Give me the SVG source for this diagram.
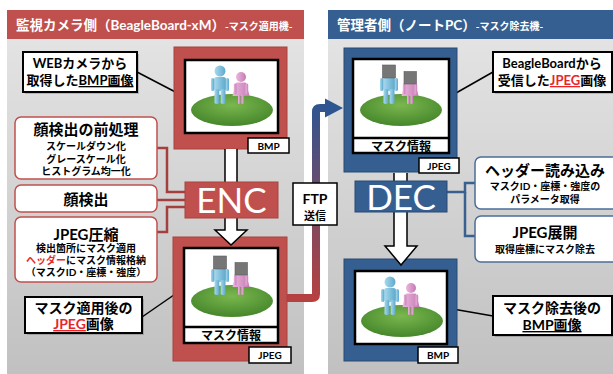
<svg xmlns="http://www.w3.org/2000/svg" width="613" height="374" viewBox="0 0 613 374">
  <style>
    .t { font-family: Lato, "Noto Sans CJK JP", sans-serif; font-weight: bold; fill: #000; }
    .w { fill: #fff; }
    .red { fill: #e8262a; }
    .call { fill: #fff; stroke: #000; stroke-width: 2; }
    .shadow { fill: #000; opacity: 0.18; }
    .lbl { fill: #fff; stroke: #000; stroke-width: 1.5; }
    .redbox { fill: #fff; stroke: #c0504d; stroke-width: 1.5; }
    .bluebox { fill: #fff; stroke: #4a6d99; stroke-width: 1.5; }
    .lead { stroke: #000; stroke-width: 1.5; fill: none; }
    .redlink { stroke: #a33f3c; stroke-width: 2.5; fill: none; }
    .bluelink { stroke: #3a6090; stroke-width: 2.5; fill: none; }
    .flow { fill: #fff; stroke: #000; stroke-width: 1.5; stroke-linejoin: miter; }
    .redframe { fill: #c0504d; stroke: #a8423f; stroke-width: 1; }
    .blueframe { fill: #365f91; stroke: #2a4a73; stroke-width: 1; }
    .pic { fill: #fff; stroke: #000; stroke-width: 2.5; }
    .mask { fill: #767676; stroke: #5e5e5e; stroke-width: 0.6; }
  </style>
  <defs>
    <linearGradient id="panelBg" x1="0" y1="0" x2="0" y2="1">
      <stop offset="0" stop-color="#e6e6e6"/>
      <stop offset="1" stop-color="#c0c0c0"/>
    </linearGradient>
    <linearGradient id="ftpGrad" gradientUnits="userSpaceOnUse" x1="0" y1="302" x2="0" y2="100">
      <stop offset="0" stop-color="#b8403f"/>
      <stop offset="1" stop-color="#2c5592"/>
    </linearGradient>
    <radialGradient id="grass" cx="0.5" cy="0.35" r="0.6">
      <stop offset="0" stop-color="#7ab74e"/>
      <stop offset="1" stop-color="#4a8a2e"/>
    </radialGradient>
    <linearGradient id="blueBody" x1="0" y1="0" x2="1" y2="0">
      <stop offset="0" stop-color="#a8daee"/>
      <stop offset="1" stop-color="#5ea8cb"/>
    </linearGradient>
    <linearGradient id="pinkBody" x1="0" y1="0" x2="1" y2="0">
      <stop offset="0" stop-color="#ebb8de"/>
      <stop offset="1" stop-color="#c57ab4"/>
    </linearGradient>
    <!-- man standing with feet at origin -->
    <g id="man" fill="url(#blueBody)">
      <circle cx="0" cy="-33" r="5.5"/>
      <rect x="-6" y="-27" width="12" height="14" rx="2.5"/>
      <rect x="-9" y="-26" width="3.2" height="13" rx="1.6"/>
      <rect x="5.8" y="-26" width="3.2" height="13" rx="1.6"/>
      <rect x="-5.5" y="-15" width="4.8" height="15" rx="1.8"/>
      <rect x="0.7" y="-15" width="4.8" height="15" rx="1.8"/>
    </g>
    <!-- woman standing with feet at origin -->
    <g id="woman" fill="url(#pinkBody)">
      <circle cx="0" cy="-27" r="5"/>
      <path d="M-4,-21.5 h8 q1,0 1.3,1 l3.2,12.5 h-17 l3.2,-12.5 q0.3,-1 1.3,-1 z"/>
      <rect x="-7.2" y="-20.5" width="2.6" height="11" rx="1.3"/>
      <rect x="4.6" y="-20.5" width="2.6" height="11" rx="1.3"/>
      <rect x="-3" y="-9" width="2.5" height="9" rx="1"/>
      <rect x="0.5" y="-9" width="2.5" height="9" rx="1"/>
    </g>
    <!-- couple on a lawn, lawn centre at origin -->
    <g id="scene">
      <ellipse cx="0" cy="0" rx="41" ry="16" fill="url(#grass)"/>
      <use href="#man" x="-12" y="-6"/>
      <use href="#woman" x="9" y="-6"/>
    </g>
    <!-- grey squares hiding the faces -->
    <g id="masks">
      <rect class="mask" x="-18.5" y="-45" width="13" height="13"/>
      <rect class="mask" x="3" y="-38.5" width="12.5" height="12.5"/>
    </g>
  </defs>

  <rect width="613" height="374" fill="#fff"/>

  <!-- camera side panel -->
  <g id="camera-panel">
    <rect x="7" y="10" width="297" height="370" fill="url(#panelBg)"/>
    <rect x="7" y="10" width="297" height="29" fill="#c0504d"/>
    <text class="t w" x="16" y="30" font-size="13.5">監視カメラ側（BeagleBoard-xM）<tspan font-size="10">-マスク適用機-</tspan></text>
  </g>

  <!-- admin side panel -->
  <g id="admin-panel">
    <rect x="328" y="10" width="290" height="370" fill="url(#panelBg)"/>
    <rect x="328" y="10" width="290" height="29" fill="#365f91"/>
    <text class="t w" x="337" y="30" font-size="13.5">管理者側（ノートPC）<tspan font-size="10">-マスク除去機-</tspan></text>
  </g>

  <!-- connectors -->
  <g id="connectors">
    <path class="lead" d="M137,72 L185,97"/>
    <path class="lead" d="M142,317 L184,288"/>
    <path class="lead" d="M493,72 L449,97"/>
    <path class="lead" d="M493,316 L447,308"/>
    <path class="redlink" d="M157,148 H167 V192 H185"/>
    <path class="redlink" d="M157,200 H185"/>
    <path class="redlink" d="M157,232 H167 V207 H185"/>
    <path class="bluelink" d="M447,192 H465 V183 H475"/>
    <path class="bluelink" d="M465,192 V236 H475"/>
    <path d="M287,298 H312 Q316,298 316,294 V112 Q316,108 320,108 H327" fill="none" stroke="url(#ftpGrad)" stroke-width="8"/>
    <polygon points="325,98.5 343,108 325,117.5" fill="#2c5592"/>
  </g>

  <!-- source BMP image -->
  <g id="img-bmp-src">
    <rect class="redframe" x="174" y="47" width="113" height="102"/>
    <rect class="pic" x="185" y="60" width="93" height="73"/>
    <use href="#scene" x="232" y="110"/>
    <rect class="lbl" x="248" y="138" width="41" height="15"/>
    <text class="t" x="268.5" y="150" font-size="10" text-anchor="middle">BMP</text>
  </g>

  <!-- masked JPEG image -->
  <g id="img-jpeg-masked">
    <rect class="redframe" x="173" y="237" width="114" height="124"/>
    <rect class="pic" x="184" y="248" width="94" height="95"/>
    <use href="#scene" x="232" y="301"/>
    <use href="#masks" x="232" y="301"/>
    <line x1="184" y1="327" x2="278" y2="327" stroke="#000" stroke-width="2.5"/>
    <text class="t" x="231" y="340" font-size="12" text-anchor="middle">マスク情報</text>
    <rect class="lbl" x="249" y="347" width="42" height="16"/>
    <text class="t" x="270" y="359" font-size="10" text-anchor="middle">JPEG</text>
  </g>

  <!-- received JPEG image -->
  <g id="img-jpeg-recv">
    <rect class="blueframe" x="344" y="48" width="113" height="124"/>
    <rect class="pic" x="353" y="59" width="96" height="94"/>
    <use href="#scene" x="401" y="110"/>
    <use href="#masks" x="401" y="110"/>
    <line x1="353" y1="138" x2="449" y2="138" stroke="#000" stroke-width="2.5"/>
    <text class="t" x="401" y="150.5" font-size="12" text-anchor="middle">マスク情報</text>
    <rect class="lbl" x="419" y="158" width="40" height="15"/>
    <text class="t" x="439" y="170" font-size="10" text-anchor="middle">JPEG</text>
  </g>

  <!-- restored BMP image -->
  <g id="img-bmp-out">
    <rect class="blueframe" x="344" y="259" width="113" height="102"/>
    <rect class="pic" x="355" y="271" width="92" height="73"/>
    <use href="#scene" x="402" y="321"/>
    <rect class="lbl" x="418" y="347" width="40" height="16"/>
    <text class="t" x="438" y="359" font-size="10" text-anchor="middle">BMP</text>
  </g>

  <!-- processing flow arrows -->
  <g id="flow-arrows">
    <path class="flow" d="M225,149 V230 H215 L231,245 L247,230 H237 V149"/>
    <path class="flow" d="M394,173 V246 H385 L401,265 L417,246 H407 V173"/>
  </g>

  <g id="enc">
    <rect x="185" y="182" width="93" height="36" fill="#c0504d" stroke="#a8423f"/>
    <text x="231.5" y="213" font-family="Lato, sans-serif" font-size="35" fill="#fff" text-anchor="middle">ENC</text>
  </g>

  <g id="dec">
    <rect x="355" y="181" width="92" height="31" fill="#365f91" stroke="#2a4a73"/>
    <text x="401" y="210" font-family="Lato, sans-serif" font-size="35" fill="#fff" text-anchor="middle">DEC</text>
  </g>

  <g id="ftp">
    <rect class="lbl" x="293" y="183" width="44" height="42"/>
    <text class="t" x="315" y="204" font-size="14" text-anchor="middle">FTP</text>
    <text class="t" x="315" y="220" font-size="11" text-anchor="middle">送信</text>
  </g>

  <g id="note-webcam">
    <rect class="shadow" x="25" y="54" width="114" height="40"/>
    <rect class="call" x="23" y="52" width="114" height="40"/>
    <text class="t" x="80" y="68" font-size="13" text-anchor="middle">WEBカメラから</text>
    <text class="t" x="80" y="85" font-size="13" text-anchor="middle">取得した<tspan text-decoration="underline">BMP画像</tspan></text>
  </g>

  <g id="step-preprocess">
    <rect class="redbox" x="15" y="117" width="142" height="62" rx="6"/>
    <text class="t" x="86" y="135" font-size="15" text-anchor="middle">顔検出の前処理</text>
    <text class="t" x="86" y="150" font-size="10" text-anchor="middle">スケールダウン化</text>
    <text class="t" x="86" y="162.5" font-size="10" text-anchor="middle">グレースケール化</text>
    <text class="t" x="86" y="175" font-size="10" text-anchor="middle">ヒストグラム均一化</text>
  </g>

  <g id="step-detect">
    <rect class="redbox" x="15" y="185" width="142" height="27" rx="6"/>
    <text class="t" x="86" y="205" font-size="15" text-anchor="middle">顔検出</text>
  </g>

  <g id="step-compress">
    <rect class="redbox" x="15" y="217" width="142" height="65" rx="6"/>
    <text class="t" x="86" y="240" font-size="15" text-anchor="middle">JPEG圧縮</text>
    <text class="t" x="86" y="251.5" font-size="10" text-anchor="middle">検出箇所にマスク適用</text>
    <text class="t" x="86" y="263.5" font-size="10" text-anchor="middle"><tspan class="red">ヘッダー</tspan>にマスク情報格納</text>
    <text class="t" x="86" y="276" font-size="10" text-anchor="middle">（マスクID・座標・強度）</text>
  </g>

  <g id="note-masked">
    <rect class="shadow" x="27" y="299" width="117" height="36"/>
    <rect class="call" x="25" y="297" width="117" height="36"/>
    <text class="t" x="83.5" y="313" font-size="14" text-anchor="middle">マスク適用後の</text>
    <text class="t" x="83.5" y="329" font-size="14" text-anchor="middle"><tspan class="red" text-decoration="underline">JPEG</tspan>画像</text>
  </g>

  <g id="note-received">
    <rect class="shadow" x="495" y="54" width="119" height="40"/>
    <rect class="call" x="493" y="52" width="119" height="40"/>
    <text class="t" x="552" y="68" font-size="13" text-anchor="middle">BeagleBoardから</text>
    <text class="t" x="552" y="85" font-size="13" text-anchor="middle">受信した<tspan class="red" text-decoration="underline">JPEG</tspan>画像</text>
  </g>

  <g id="step-header">
    <rect class="bluebox" x="475" y="157" width="145" height="52" rx="6"/>
    <text class="t" x="545" y="176" font-size="15" text-anchor="middle">ヘッダー読み込み</text>
    <text class="t" x="545" y="190" font-size="10" text-anchor="middle">マスクID・座標・強度の</text>
    <text class="t" x="545" y="202.5" font-size="10" text-anchor="middle">パラメータ取得</text>
  </g>

  <g id="step-expand">
    <rect class="bluebox" x="475" y="216" width="145" height="46" rx="6"/>
    <text class="t" x="545" y="238" font-size="15" text-anchor="middle">JPEG展開</text>
    <text class="t" x="545" y="252.5" font-size="10" text-anchor="middle">取得座標にマスク除去</text>
  </g>

  <g id="note-restored">
    <rect class="shadow" x="495" y="298" width="119" height="39"/>
    <rect class="call" x="493" y="296" width="119" height="39"/>
    <text class="t" x="552" y="313" font-size="14" text-anchor="middle">マスク除去後の</text>
    <text class="t" x="552" y="330" font-size="14" text-anchor="middle" text-decoration="underline">BMP画像</text>
  </g>
</svg>
